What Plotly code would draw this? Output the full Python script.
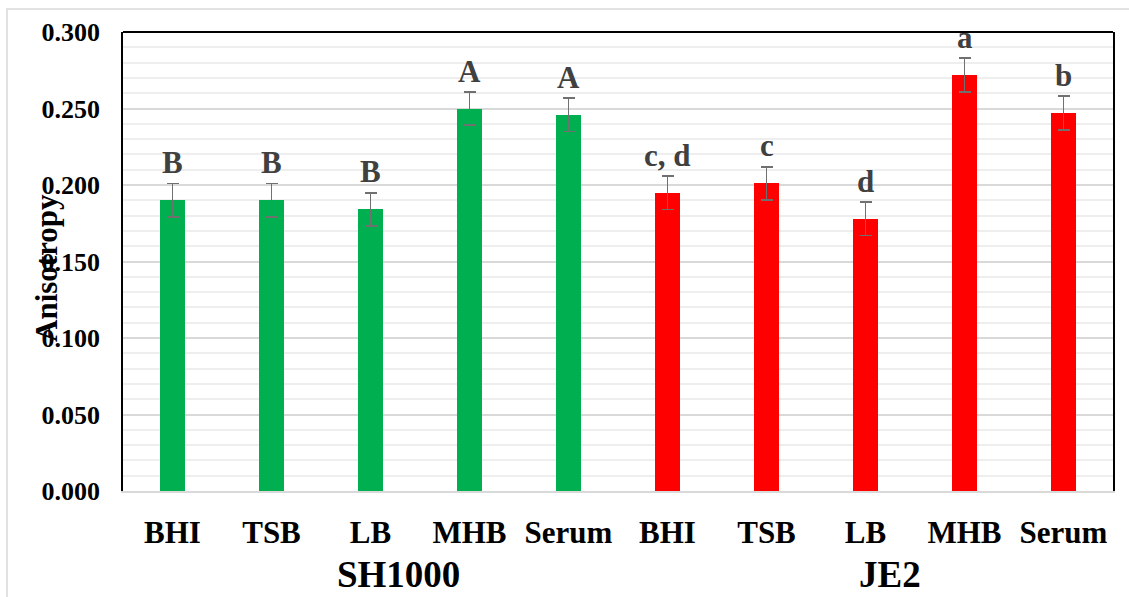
import plotly.graph_objects as go

# Fluorescence anisotropy by growth medium for two S. aureus strains
media = ["BHI", "TSB", "LB", "MHB", "Serum"]
strains = ["SH1000", "JE2"]

sh1000_mean = [0.190, 0.190, 0.184, 0.250, 0.246]
sh1000_err = [0.011, 0.011, 0.011, 0.011, 0.011]
sh1000_letters = ["B", "B", "B", "A", "A"]

je2_mean = [0.195, 0.201, 0.178, 0.272, 0.247]
je2_err = [0.011, 0.011, 0.011, 0.011, 0.011]
je2_letters = ["c, d", "c", "d", "a", "b"]

y_ticks = [0.0, 0.05, 0.10, 0.15, 0.20, 0.25, 0.30]

SERIF = "Times New Roman"
GREEN = "#00B050"
RED = "#FF0000"

# plot-area geometry in pixels (figure is 1129 x 597)
W, H = 1129, 597
L, R, T, B = 123, 16, 32, 106
pw, ph = W - L - R, H - T - B


def px_x(px):
    return (px - L) / pw


def px_y(py):
    return (H - B - py) / ph


n = len(media)
x_sh = list(range(n))
x_je = list(range(n, 2 * n))

fig = go.Figure()
for xs, ys, es, col in [(x_sh, sh1000_mean, sh1000_err, GREEN),
                        (x_je, je2_mean, je2_err, RED)]:
    fig.add_trace(go.Bar(
        x=xs, y=ys, width=0.25, marker=dict(color=col, line=dict(width=0)),
        error_y=dict(type="data", array=es, visible=True,
                     color="#707070", thickness=1.8, width=6),
        showlegend=False,
    ))

# significance letters above each bar
for xs, ys, es, letters in [(x_sh, sh1000_mean, sh1000_err, sh1000_letters),
                            (x_je, je2_mean, je2_err, je2_letters)]:
    for xv, yv, ev, txt in zip(xs, ys, es, letters):
        fig.add_annotation(
            x=xv, y=yv, xref="x", yref="y", text=txt, showarrow=False,
            yanchor="bottom", yshift=18,
            font=dict(family=SERIF, size=31, color="#404040", weight="bold"),
        )

# strain group labels under the medium names
for txt, cx in zip(strains, [398, 890]):
    fig.add_annotation(
        x=px_x(cx), y=px_y(552), xref="paper", yref="paper", text=txt,
        showarrow=False, xanchor="center", yanchor="top",
        font=dict(family=SERIF, size=37, color="black", weight="bold"),
    )

# y-axis title
fig.add_annotation(
    x=px_x(46), y=px_y(268), xref="paper", yref="paper", text="Anisotropy",
    textangle=-90, showarrow=False, xanchor="center", yanchor="middle",
    font=dict(family=SERIF, size=31, color="black", weight="bold"),
)

# chart-area frame and top border of the plot area
fig.add_shape(type="rect", xref="paper", yref="paper",
              x0=px_x(7), x1=px_x(1140), y0=px_y(610), y1=px_y(9),
              line=dict(color="#d9d9d9", width=1.5), layer="below")
fig.add_shape(type="line", xref="paper", yref="paper",
              x0=0, x1=1, y0=1, y1=1, line=dict(color="black", width=2))

fig.update_layout(
    width=W, height=H,
    margin=dict(l=L, r=R, t=T, b=B, pad=0),
    paper_bgcolor="white", plot_bgcolor="white",
    bargap=0,
    font=dict(family=SERIF),
    xaxis=dict(
        range=[-0.5, 2 * n - 0.5],
        tickvals=x_sh + x_je, ticktext=media + media,
        showgrid=False, zeroline=False,
        showline=True, linecolor="#d9d9d9", linewidth=2,
        ticks="", ticklabelstandoff=13,
        tickfont=dict(family=SERIF, size=31, color="black", weight="bold"),
    ),
    yaxis=dict(
        range=[0, 0.30], tickvals=y_ticks, tickformat=".3f",
        showgrid=True, gridcolor="#d9d9d9", gridwidth=1.5,
        minor=dict(dtick=0.01, showgrid=True, gridcolor="#eeeeee", gridwidth=1.5),
        zeroline=False,
        showline=True, linecolor="black", linewidth=1.5, mirror=True,
        ticks="", ticklabelstandoff=16,
        tickfont=dict(family=SERIF, size=26, color="black", weight="bold"),
    ),
)

fig.write_html("out.html")
